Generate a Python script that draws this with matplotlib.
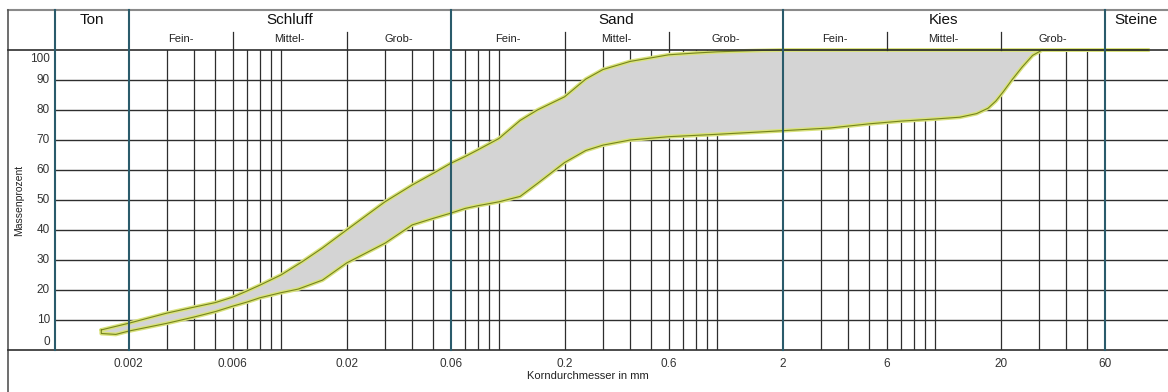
import matplotlib
matplotlib.use("Agg")
import matplotlib.pyplot as plt
import numpy as np
from matplotlib.lines import Line2D
from matplotlib.ticker import NullLocator
from matplotlib.transforms import blended_transform_factory

plt.rcParams['font.family'] = ['Liberation Sans', 'DejaVu Sans']

# ---------------- data ----------------
upper_d = [0.0015, 0.002, 0.003, 0.004, 0.005, 0.006, 0.007, 0.008, 0.01, 0.0125,
           0.0155, 0.02, 0.03, 0.04, 0.05, 0.06, 0.07, 0.08, 0.1, 0.125, 0.15, 0.2,
           0.25, 0.3, 0.4, 0.5, 0.6, 0.8, 1.0, 1.5, 2.0, 95]
upper_p = [6.7, 8.9, 12.3, 14.3, 15.8, 17.6, 19.7, 21.6, 25.0, 29.4,
           34.0, 40.0, 49.4, 55.0, 58.9, 62.2, 64.5, 66.7, 70.5, 76.5, 80.0, 84.4,
           90.3, 93.5, 96.2, 97.4, 98.4, 99.0, 99.4, 99.8, 100, 100]

lower_d = [0.0015, 0.00175, 0.002, 0.003, 0.004, 0.005, 0.006, 0.007, 0.008, 0.01,
           0.012, 0.0155, 0.02, 0.03, 0.04, 0.05, 0.06, 0.07, 0.08, 0.1, 0.125, 0.15,
           0.2, 0.25, 0.3, 0.4, 0.5, 0.6, 1.0, 2.0, 3.3, 5.0, 7.0, 10, 13, 15.5, 17.5,
           19, 20.5, 22.5, 25, 28, 31, 95]
lower_p = [5.5, 5.2, 6.3, 8.9, 11.0, 12.8, 14.6, 16.0, 17.4, 19.1,
           20.3, 23.3, 29.0, 35.6, 41.7, 43.9, 45.6, 47.2, 48.1, 49.4, 51.2, 55.5,
           62.5, 66.5, 68.3, 70.0, 70.6, 71.1, 71.9, 73.1, 74.0, 75.4, 76.3, 77.0, 77.6, 78.8, 80.6,
           83.0, 86.0, 90.0, 94.2, 98.2, 100, 100]

main_labels = ['Ton', 'Schluff', 'Sand', 'Kies', 'Steine']
main_bounds = [0.00092, 0.002, 0.06, 2, 60, 117]
sub_labels = ['Fein-', 'Mittel-', 'Grob-']
sub_bounds = {'Schluff': [0.002, 0.006, 0.02, 0.06],
              'Sand': [0.06, 0.2, 0.6, 2],
              'Kies': [2, 6, 20, 60]}
x_ticks = [0.002, 0.006, 0.02, 0.06, 0.2, 0.6, 2, 6, 20, 60]
x_tick_labels = ['0.002', '0.006', '0.02', '0.06', '0.2', '0.6', '2', '6', '20', '60']
y_ticks = [0, 10, 20, 30, 40, 50, 60, 70, 80, 90, 100]
y_tick_labels = [str(v) for v in y_ticks]
grid_mult = [3, 4, 5, 6, 7, 8, 9, 10, 20]
grid_decades = [0.001, 0.01, 0.1, 1, 10]
x_label = 'Korndurchmesser in mm'
y_label = 'Massenprozent'

# ---------------- figure ----------------
W, H = 1168, 392
fig = plt.figure(figsize=(W / 100, H / 100), dpi=100)
fx = lambda px: px / W
fy = lambda py: 1 - py / H

ax = fig.add_axes([fx(55), fy(350), fx(W) - fx(55), fy(50) - fy(350)])
ax.set_xscale('log')
ax.set_xlim(main_bounds[0], main_bounds[-1])
ax.set_ylim(0, 100)
for s in ax.spines.values():
    s.set_visible(False)

GRID = '#2e2e2e'
TEAL = '#2a5b6b'

# vertical grid lines
teal_vals = main_bounds[1:-1]
for dec in grid_decades:
    for m in grid_mult:
        v = round(dec * m, 6)
        if main_bounds[0] < v <= 60 and not any(abs(v - t) < 1e-9 for t in teal_vals):
            ax.axvline(v, color=GRID, lw=0.9, zorder=1)
# horizontal grid lines
for v in y_ticks[1:-1]:
    ax.axhline(v, color=GRID, lw=1.0, zorder=1)

# frame lines (figure coordinates)
fig.add_artist(Line2D([fx(8), fx(W)], [fy(10), fy(10)], color='#8a8a8a', lw=1.5, transform=fig.transFigure))
fig.add_artist(Line2D([fx(8), fx(8)], [fy(10), fy(H)], color='#555555', lw=1.2, transform=fig.transFigure))
for py in (50, 350):
    fig.add_artist(Line2D([fx(8), fx(W)], [fy(py), fy(py)], color=GRID, lw=1.2,
                          transform=fig.transFigure, zorder=2))

bt = blended_transform_factory(ax.transData, fig.transFigure)
# fraction boundary lines
for v in main_bounds[:-1]:
    fig.add_artist(Line2D([v, v], [fy(10), fy(350)], color=TEAL, lw=1.5, transform=bt, zorder=3))
# sub boundaries
for name, b in sub_bounds.items():
    for v in b[1:-1]:
        fig.add_artist(Line2D([v, v], [fy(32), fy(50)], color=GRID, lw=0.9, transform=bt))

# header labels
for i, name in enumerate(main_labels):
    c = np.sqrt(main_bounds[i] * main_bounds[i + 1])
    fig.text(c, fy(20), name, transform=bt, ha='center', va='center', fontsize=11, color='#111111')
for name, b in sub_bounds.items():
    for j, lab in enumerate(sub_labels):
        c = np.sqrt(b[j] * b[j + 1])
        fig.text(c, fy(39), lab, transform=bt, ha='center', va='center', fontsize=8, color='#222222')

# band
poly_x = np.concatenate([upper_d, lower_d[::-1]])
poly_y = np.concatenate([upper_p, lower_p[::-1]])
ax.fill(poly_x, poly_y, facecolor='#d4d4d4', edgecolor='none', zorder=5, clip_on=False)
cx = np.append(poly_x, poly_x[0])
cy = np.append(poly_y, poly_y[0])
ax.plot(cx, cy, color='#d9e27c', lw=2.8, zorder=6, clip_on=False,
        solid_joinstyle='round', solid_capstyle='round')
ax.plot(cx, cy, color='#76851c', lw=0.8, zorder=7, clip_on=False,
        solid_joinstyle='round')

# ticks
ax.xaxis.set_minor_locator(NullLocator())
ax.set_xticks(x_ticks, x_tick_labels)
ax.tick_params(axis='x', length=0, pad=6, labelsize=8.5, labelcolor='#333333')
ax.set_yticks([])
ty = blended_transform_factory(fig.transFigure, ax.transData)
for v, lab in zip(y_ticks, y_tick_labels):
    off = -3.0 if v == 100 else (2.8 if v == 0 else 0)
    fig.text(fx(50), v + off, lab, transform=ty, ha='right', va='center', fontsize=8.5, color='#333333')

fig.text(fx(588), fy(376), x_label, ha='center', va='center', fontsize=8, color='#222222')
fig.text(fx(19), fy(200), y_label, ha='center', va='center', rotation=90, fontsize=7.5, color='#222222')

fig.savefig('out.png', dpi=100)
